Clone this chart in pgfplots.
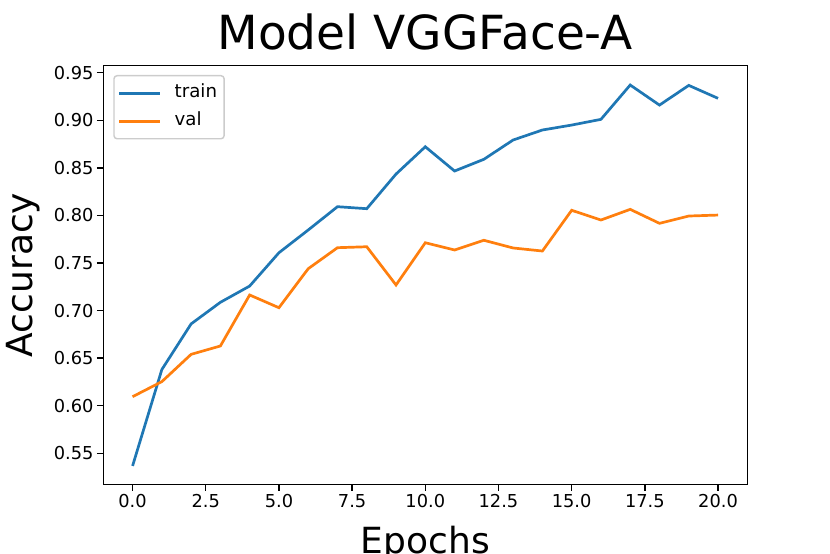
\documentclass[border=0pt]{standalone}
\usepackage{pgfplots}
\pgfplotsset{compat=1.18}
\usepackage{fontspec}
\setmainfont{DejaVu Sans}
\definecolor{c0}{HTML}{1F77B4}
\definecolor{c1}{HTML}{FF7F0E}
\begin{document}
\begin{tikzpicture}
\begin{axis}[
  name=ax,
  width=644pt, height=418.6pt, scale only axis,
  xmin=-1, xmax=21, ymin=0.5174, ymax=0.9574,
  xtick={0,2.5,5,7.5,10,12.5,15,17.5,20},
  ytick={0.55,0.60,0.65,0.70,0.75,0.80,0.85,0.90,0.95},
  xticklabel style={/pgf/number format/.cd, fixed, fixed zerofill, precision=1},
  yticklabel style={/pgf/number format/.cd, fixed, fixed zerofill, precision=2},
  /pgf/number format/assume math mode=true,
  scaled ticks=false,
  tick align=outside, tick pos=left,
  major tick length=6.3pt,
  tick style={black, line width=1.44pt},
  axis line style={black, line width=1.44pt},
  ticklabel style={font=\fontsize{17.8}{20}\selectfont},
  title={Model VGGFace-A},
  title style={font=\fontsize{47}{50}\selectfont, at={(axis description cs:0.5,1)}, anchor=base, yshift=10.7pt},
  legend style={at={(axis description cs:0,1)}, anchor=north west, xshift=10pt, yshift=-9.3pt,
    draw=black!20, line width=1.44pt, rounded corners=3pt, font=\fontsize{18.2}{20}\selectfont,
    inner xsep=4pt, inner ysep=6pt, row sep=5pt,
    nodes={inner xsep=3pt, inner ysep=3pt, text height=13pt, text depth=4pt},
    /tikz/every odd column/.style={column sep=10pt}},
  legend cell align=left,
  legend image code/.code={\draw[#1] (0pt,0pt) -- (41pt,0pt);},
]
\addplot[c0, line width=2.7pt] coordinates {
(0,0.5367) (1,0.638) (2,0.686) (3,0.7087) (4,0.7258) (5,0.7608) (6,0.7847) (7,0.8092) (8,0.8071) (9,0.8435) (10,0.8722)
(11,0.8467) (12,0.859) (13,0.8793) (14,0.8898) (15,0.895) (16,0.901) (17,0.9371) (18,0.916) (19,0.9367) (20,0.9231)};
\addlegendentry{train}
\addplot[c1, line width=2.7pt] coordinates {
(0,0.6095) (1,0.6253) (2,0.654) (3,0.6628) (4,0.7164) (5,0.703) (6,0.744) (7,0.7661) (8,0.7671) (9,0.7269) (10,0.7713)
(11,0.7637) (12,0.7739) (13,0.7658) (14,0.7626) (15,0.8054) (16,0.7952) (17,0.8064) (18,0.7917) (19,0.7994) (20,0.8004)};
\addlegendentry{val}
\end{axis}
\node[anchor=base, font=\fontsize{36}{40}\selectfont] at ([yshift=-68.7pt]ax.south) {Epochs};
\node[anchor=base, rotate=90, font=\fontsize{36}{40}\selectfont] at ([xshift=-70.3pt]ax.west) {Accuracy};
\pgfresetboundingbox
\useasboundingbox ([xshift=-103.3pt,yshift=-69.7pt]ax.south west) rectangle ([xshift=82.7pt,yshift=65.7pt]ax.north east);
\end{tikzpicture}
\end{document}
